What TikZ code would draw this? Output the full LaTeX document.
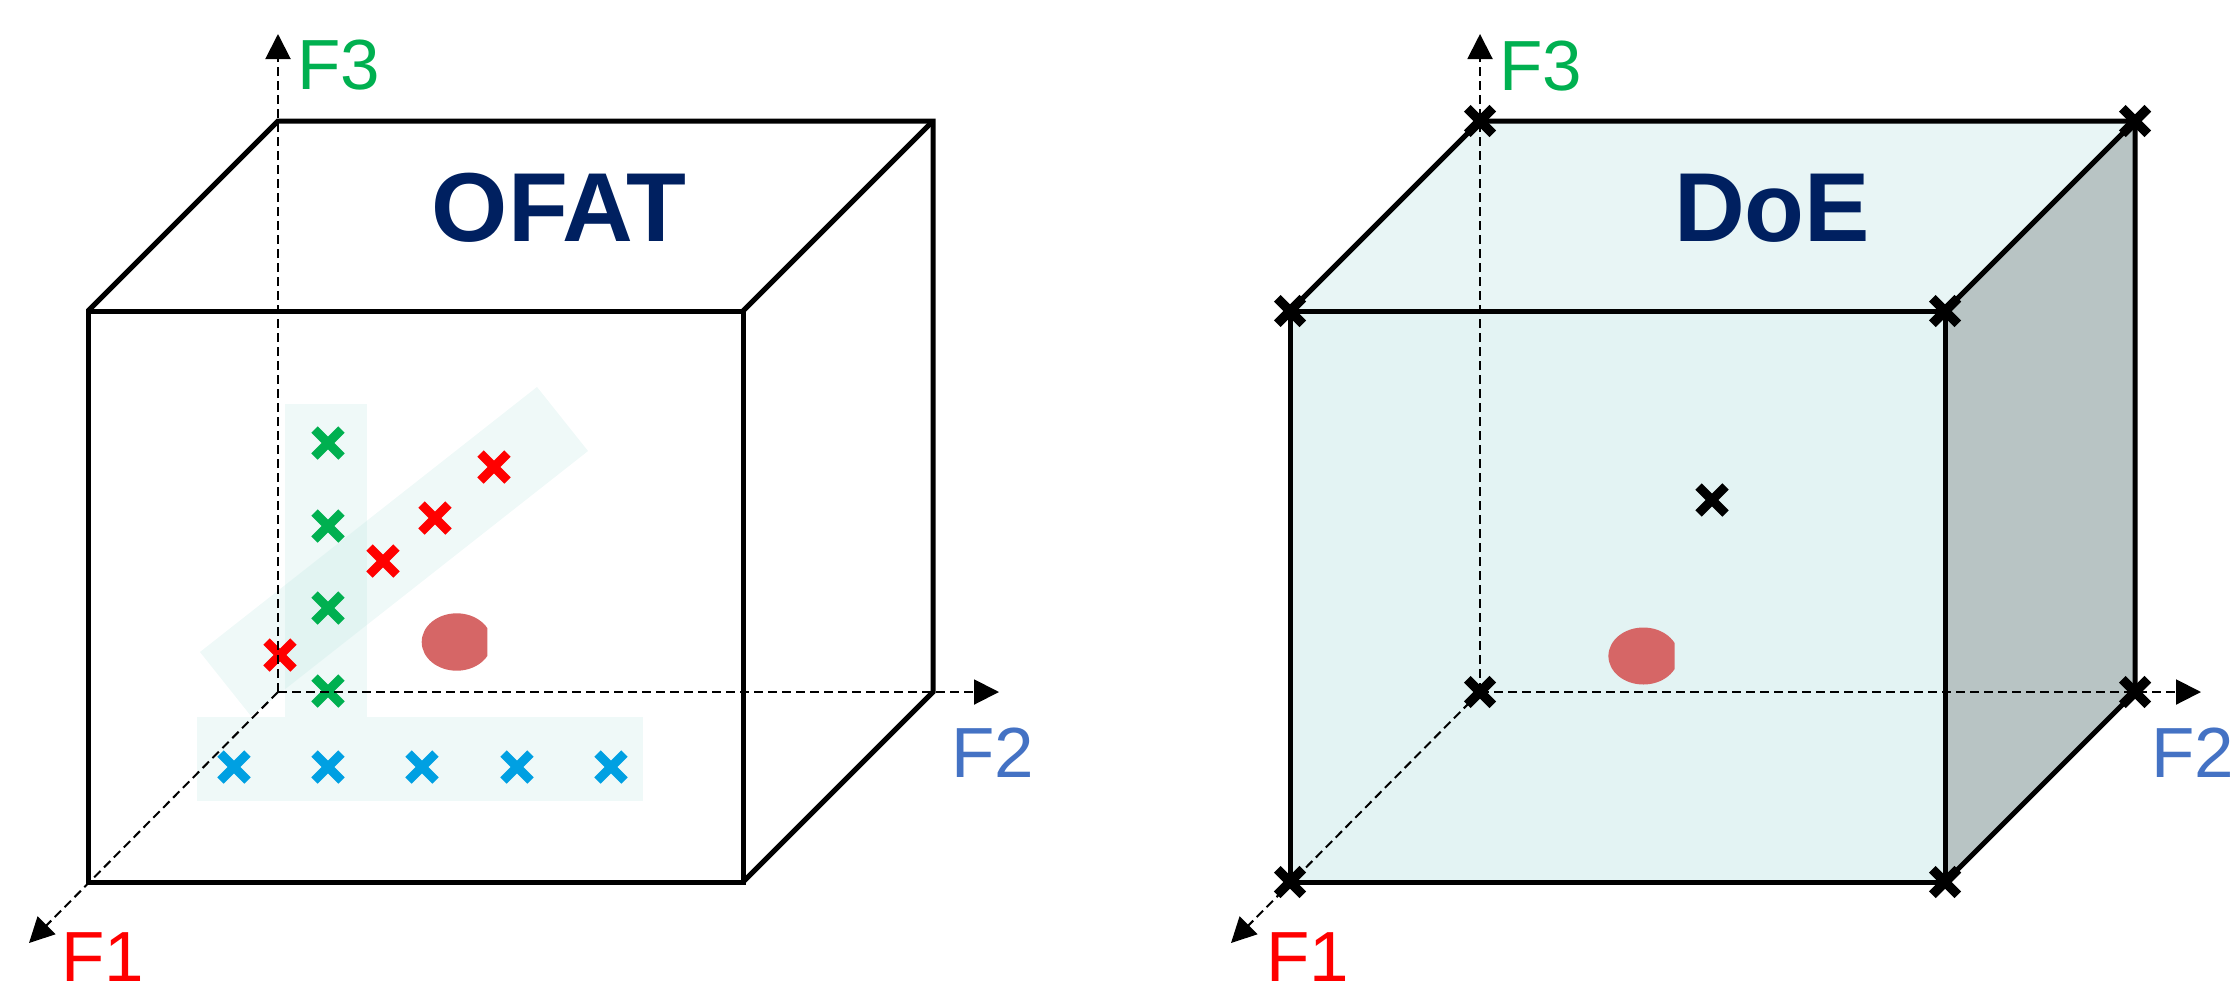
\documentclass[tikz,border=0pt]{standalone}
\usepackage{fontspec}
\setmainfont{Liberation Sans}
\usetikzlibrary{arrows.meta,shapes.misc}
\definecolor{navy}{RGB}{0,32,96}
\definecolor{fgreen}{RGB}{0,176,80}
\definecolor{fblue}{RGB}{68,114,196}
\definecolor{xblue}{RGB}{0,160,226}
\definecolor{xred}{RGB}{255,0,0}
\definecolor{blob}{RGB}{214,102,102}
\definecolor{barc}{RGB}{190,230,226}
\definecolor{topc}{RGB}{232,245,245}
\definecolor{frontc}{RGB}{227,243,243}
\definecolor{sidec}{RGB}{184,196,196}
\begin{document}
\begin{tikzpicture}[x=1pt,y=-1pt,
  edge/.style={line width=5pt,line join=miter},
  axisline/.style={line width=2pt,dash pattern=on 9pt off 5pt,-{Triangle[length=25pt,width=25pt]}},
  lab/.style={font=\fontsize{71}{71}\selectfont,inner sep=0pt,anchor=base west},
  ttl/.style={font=\fontsize{98}{98}\selectfont\bfseries,text=navy,inner sep=0pt,anchor=base},
  xm/.style={cross out,draw=#1,line width=9pt,minimum size=18pt,inner sep=0pt},
  cornermark/.style={cross out,draw=black,line width=9.5pt,minimum size=16pt,inner sep=0pt},
  centermark/.style={cross out,draw=black,line width=9pt,minimum size=18pt,inner sep=0pt},
  bar/.style={fill=barc,fill opacity=0.25}]
\useasboundingbox (0,0) rectangle (2238,997);

% ---------------- OFAT ----------------
\coordinate (aO) at (278,692);
\coordinate (afTL) at (88,311);
\coordinate (afTR) at (743,311);
\coordinate (afBL) at (88,882);
\coordinate (afBR) at (743,882);
\coordinate (abTL) at (278,121);
\coordinate (abTR) at (933,121);
\coordinate (abBR) at (933,692);
\coordinate (aF3) at (278,34);
\coordinate (aF2) at (999,692);
\coordinate (aF1) at (29,943);

% translucent bars
\fill[bar] (285,404) rectangle (367,717);
\fill[bar] (197,717) rectangle (643,801);
\fill[bar] (200,652) -- (537,387) -- (588,451) -- (251,716) -- cycle;

% result blob
\begin{scope}
\clip (400,600) rectangle (487.3,690);
\fill[blob] (456.7,642) ellipse [x radius=35,y radius=28.7];
\end{scope}

% crosses
\node[xm=fgreen] (g1) at (328,443) {};
\node[xm=fgreen] (g2) at (328,526) {};
\node[xm=fgreen] (g3) at (328,608) {};
\node[xm=fgreen] (g4) at (328,691) {};
\node[xm=xred] (r1) at (280,655) {};
\node[xm=xred] (r2) at (383,561) {};
\node[xm=xred] (r3) at (435,518) {};
\node[xm=xred] (r4) at (494,467) {};
\node[xm=xblue] (b1) at (234,767) {};
\node[xm=xblue] (b2) at (328,767) {};
\node[xm=xblue] (b3) at (422,767) {};
\node[xm=xblue] (b4) at (517,767) {};
\node[xm=xblue] (b5) at (611,767) {};

% axes
\draw[axisline] (aO) -- (aF3);
\draw[axisline] (aO) -- (aF2);
\draw[axisline] (aO) -- (aF1);

% cube edges
\draw[edge] (afTL) rectangle (afBR);
\draw[edge] (afTL) -- (abTL) -- (abTR) -- (abBR) -- (afBR);
\draw[edge] (afTR) -- (abTR);

% labels
\node[lab,text=fgreen] (aL3) at (297,89) {F3};
\node[lab,text=fblue] (aL2) at (951,777) {F2};
\node[lab,text=xred] (aL1) at (61,981) {F1};
\node[ttl] (aT) at (559,241) {OFAT};

% ---------------- DoE ----------------
\coordinate (dO) at (1480,692);
\coordinate (dfTL) at (1290,311);
\coordinate (dfTR) at (1945,311);
\coordinate (dfBL) at (1290,882);
\coordinate (dfBR) at (1945,882);
\coordinate (dbTL) at (1480,121);
\coordinate (dbTR) at (2135,121);
\coordinate (dbBR) at (2135,692);
\coordinate (dF3) at (1480,34);
\coordinate (dF2) at (2201,692);
\coordinate (dF1) at (1231,943);

% faces
\fill[topc] (dfTL) -- (dbTL) -- (dbTR) -- (dfTR) -- cycle;
\fill[sidec] (dfTR) -- (dbTR) -- (dbBR) -- (dfBR) -- cycle;
\fill[frontc] (dfTL) rectangle (dfBR);

% result blob
\begin{scope}
\clip (1590,600) rectangle (1674.6,700);
\fill[blob] (1643.4,656) ellipse [x radius=35,y radius=28.5];
\end{scope}

% axes
\draw[axisline] (dO) -- (dF3);
\draw[axisline] (dO) -- (dF2);
\draw[axisline] (dO) -- (dF1);

% cube edges
\draw[edge] (dfTL) rectangle (dfBR);
\draw[edge] (dfTL) -- (dbTL) -- (dbTR) -- (dbBR) -- (dfBR);
\draw[edge] (dfTR) -- (dbTR);

% design points
\node[cornermark] (c1) at (dfTL) {};
\node[cornermark] (c2) at (dfTR) {};
\node[cornermark] (c3) at (dfBL) {};
\node[cornermark] (c4) at (dfBR) {};
\node[cornermark] (c5) at (dbTL) {};
\node[cornermark] (c6) at (dbTR) {};
\node[cornermark] (c7) at (dbBR) {};
\node[cornermark] (c8) at (dO) {};
\node[centermark] (c9) at (1712,500) {};

% labels
\node[lab,text=fgreen] (dL3) at (1499,90) {F3};
\node[lab,text=fblue] (dL2) at (2151,777) {F2};
\node[lab,text=xred] (dL1) at (1266,981) {F1};
\node[ttl] (dT) at (1772,241) {DoE};
\end{tikzpicture}
\end{document}
